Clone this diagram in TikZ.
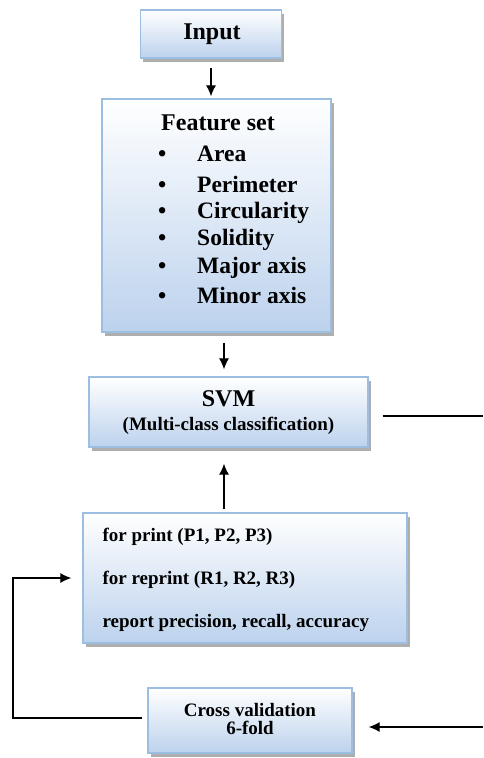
\documentclass[tikz,border=0pt]{standalone}
\usepackage{fontspec}
\setmainfont{Liberation Serif}
\usetikzlibrary{shadows,arrows.meta}

\definecolor{bordbleu}{RGB}{155,190,225}
\definecolor{fondbleu}{RGB}{188,210,237}

\tikzset{
    boite/.style={draw=bordbleu, line width=1.3pt, top color=white, bottom color=fondbleu,
        inner sep=0pt, drop shadow={shadow xshift=2.5pt, shadow yshift=-3.5pt, fill=black!45, opacity=0.7}},
    grand/.style={font=\fontsize{24}{26}\selectfont\bfseries},
    moyen/.style={font=\fontsize{23.5}{26}\selectfont\bfseries, inner sep=0pt, anchor=base west},
    petit/.style={font=\fontsize{19}{21}\selectfont\bfseries},
    fleche/.style={-{Latex[length=11pt,width=10pt]}, line width=1.2pt},
}

\begin{document}
\begin{tikzpicture}[x=1pt, y=-1pt]
    \useasboundingbox (0,0) rectangle (483,758);

    % Boites
    \node[boite, minimum width=141pt, minimum height=48pt] (input) at (211,34) {};
    \node[boite, minimum width=229pt, minimum height=233pt] (feature) at (216.5,215.5) {};
    \node[boite, minimum width=279pt, minimum height=70pt] (svm) at (228.5,412) {};
    \node[boite, minimum width=324pt, minimum height=130pt] (resultats) at (245,578) {};
    \node[boite, minimum width=204pt, minimum height=65pt] (cross) at (250,720.5) {};

    % Textes
    \node[grand] (tinput) at (212,34) {Input};
    \node[grand] (tfeature) at (218,123) {Feature set};
    \foreach \y/\mot in {161/Area, 192/Perimeter, 218/Circularity, 245/Solidity, 273/Major axis, 303/Minor axis} {
        \node[moyen] (puce\y) at (158,\y) {\textbullet};
        \node[moyen] (mot\y) at (197,\y) {\mot};
    }
    \node[grand] (tsvm) at (228.5,399) {SVM};
    \node[petit] (tsvm2) at (228.5,426) {(Multi-class classification)};

    \node[petit, anchor=west] (print) at (99,537) {for print (P1, P2, P3)};
    \node[petit, anchor=west] (reprint) at (99,580) {for reprint (R1, R2, R3)};
    \node[petit, anchor=west] (report) at (99,623) {report precision, recall, accuracy};

    \node[petit] (tcross) at (250,710) {Cross validation};
    \node[petit] (tfold) at (250,728) {6-fold};

    % Points de passage
    \coordinate (axe) at (224,0);
    \coordinate (droitehaut) at (483,416);
    \coordinate (droitebas) at (483,727);
    \coordinate (coinbas) at (13,718);
    \coordinate (coinhaut) at (13,578);

    % Fleches
    \draw[fleche, shorten <=9pt, shorten >=2pt] (input.south) -- (input.south |- feature.north);
    \draw[fleche, shorten <=10pt, shorten >=7pt] (axe |- feature.south) -- (axe |- svm.north);
    \draw[fleche, shorten <=3pt, shorten >=16pt] (axe |- resultats.north) -- (axe |- svm.south);
    \draw[line width=1.2pt, shorten <=14pt] (droitehaut -| svm.east) -- (droitehaut);
    \draw[fleche, shorten >=16pt] (droitebas) -- (droitebas -| cross.east);
    \draw[fleche, shorten <=5pt, shorten >=11pt] (cross.west |- coinbas) -- (coinbas) -- (coinhaut) -- (coinhaut -| resultats.west);
\end{tikzpicture}
\end{document}
